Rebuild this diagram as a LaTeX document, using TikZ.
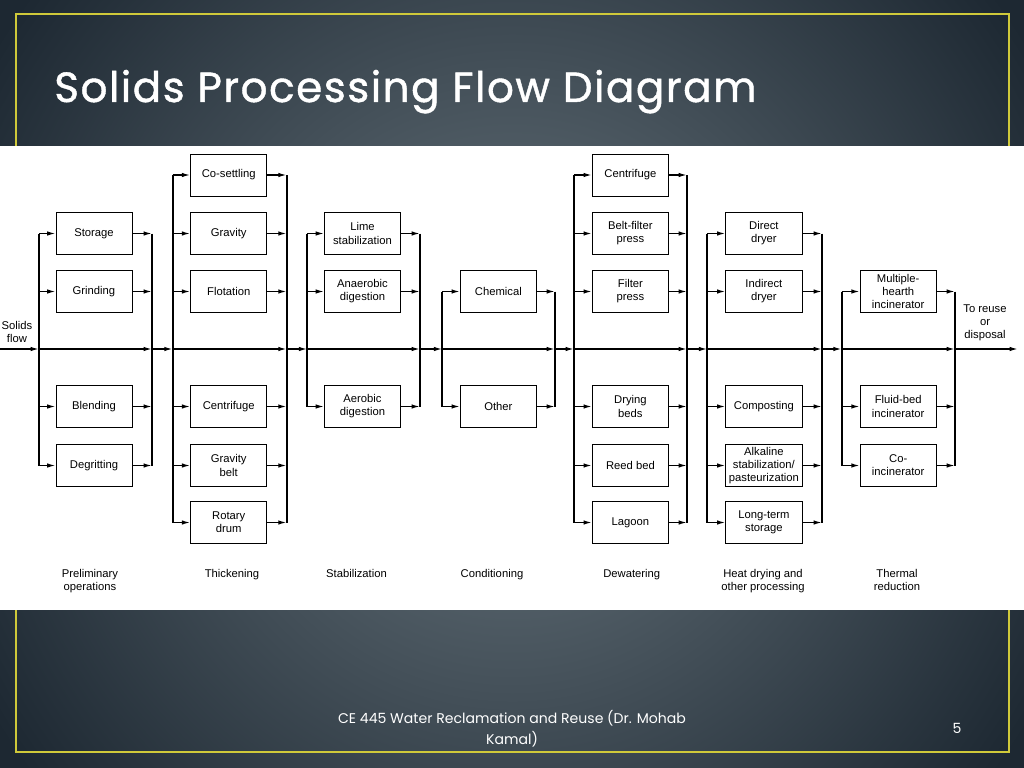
\documentclass[tikz,border=0pt]{standalone}
\usepackage{fontspec}
\setmainfont{Liberation Sans}
\newfontfamily\slidefont{Poppins}
\newfontfamily\titlefont[LetterSpace=3.5,FakeBold=1]{Poppins}
\usetikzlibrary{arrows.meta}
\definecolor{slidedark}{HTML}{1D2832}
\definecolor{slidelight}{HTML}{6A777F}
\definecolor{frameyellow}{HTML}{CFC93A}

\begin{document}
\begin{tikzpicture}[x=0.025cm,y=-0.025cm,>={Latex[length=6pt,width=3.2pt]}]
      \tikzstyle{unit}=[draw,line width=0.6pt,fill=white,minimum width=1.9cm,minimum height=1.05cm,inner sep=1pt,align=center,font=\fontsize{8}{9.3}\selectfont]
      \tikzstyle{flow}=[->,line width=1pt]
      \tikzstyle{bus}=[line width=1.5pt]
      \tikzstyle{stage}=[anchor=north,align=center,font=\fontsize{8}{9.3}\selectfont]

      \useasboundingbox (0,0) rectangle (1024,768);
      \shade[inner color=slidelight,outer color=slidedark] (-100,-250) rectangle (1124,1018);
      \draw[frameyellow,line width=1.8pt] (16,14) rectangle (1009,752);
      \fill[white] (0,146) rectangle (1024,610);

      \node[anchor=base west,inner sep=0pt,text=white,font=\titlefont\fontsize{30}{36}\selectfont] (title) at (54,102) {Solids Processing Flow Diagram};
      \node[text=white,align=center,font=\slidefont\fontsize{10}{15}\selectfont] (foot) at (512,729) {CE 445 Water Reclamation and Reuse (Dr. Mohab\\Kamal)};
      \node[text=white,font=\slidefont\fontsize{10}{12}\selectfont] (pnum) at (957,728) {5};

      \coordinate (src) at (0,349);
      \coordinate (inA) at (39,349);
      \coordinate (outA) at (152,349);
      \coordinate (inB) at (172.7,349);
      \coordinate (outB) at (286.7,349);
      \coordinate (inC) at (307.3,349);
      \coordinate (outC) at (420,349);
      \coordinate (inD) at (442.3,349);
      \coordinate (outD) at (555,349);
      \coordinate (inE) at (574,349);
      \coordinate (outE) at (687,349);
      \coordinate (inF) at (707.3,349);
      \coordinate (outF) at (822,349);
      \coordinate (inG) at (841.7,349);
      \coordinate (outG) at (955,349);
      \coordinate (sink) at (1018,349);

      \node[unit] (storage) at (94,233.5) {Storage};
      \node[unit] (grind) at (94,291.5) {Grinding};
      \node[unit] (blend) at (94,406.5) {Blending};
      \node[unit] (degrit) at (94,465.5) {Degritting};

      \node[unit] (coset) at (228.7,175) {Co-settling};
      \node[unit] (gravity) at (228.7,233.5) {Gravity};
      \node[unit] (flotat) at (228.7,291.5) {Flotation};
      \node[unit] (centA) at (228.7,406.5) {Centrifuge};
      \node[unit] (gbelt) at (228.7,465.5) {Gravity\\belt};
      \node[unit] (rdrum) at (228.7,522.5) {Rotary\\drum};

      \node[unit] (lime) at (362.5,233.5) {Lime\\stabilization};
      \node[unit] (anaer) at (362.5,291.5) {Anaerobic\\digestion};
      \node[unit] (aerob) at (362.5,406.5) {Aerobic\\digestion};

      \node[unit] (chem) at (498.4,291.5) {Chemical};
      \node[unit] (other) at (498.4,406.5) {Other};

      \node[unit] (centB) at (630.4,175) {Centrifuge};
      \node[unit] (bfp) at (630.4,233.5) {Belt-filter\\press};
      \node[unit] (fpress) at (630.4,291.5) {Filter\\press};
      \node[unit] (dbeds) at (630.4,406.5) {Drying\\beds};
      \node[unit] (reed) at (630.4,465.5) {Reed bed};
      \node[unit] (lagoon) at (630.4,522.5) {Lagoon};

      \node[unit] (ddry) at (763.9,233.5) {Direct\\dryer};
      \node[unit] (idry) at (763.9,291.5) {Indirect\\dryer};
      \node[unit] (compost) at (763.9,406.5) {Composting};
      \node[unit] (alkal) at (763.9,465.5) {Alkaline\\stabilization/\\pasteurization};
      \node[unit] (ltstore) at (763.9,522.5) {Long-term\\storage};

      \node[unit] (mhearth) at (898.2,291.5) {Multiple-\\hearth\\incinerator};
      \node[unit] (fbed) at (898.2,406.5) {Fluid-bed\\incinerator};
      \node[unit] (coinc) at (898.2,465.5) {Co-\\incinerator};

      \node[align=center,font=\fontsize{8}{9.3}\selectfont] (solids) at (17,332) {Solids\\flow};
      \node[align=center,font=\fontsize{8}{9.3}\selectfont] (reuse) at (985,323) {To reuse\\or\\disposal};

      \node[stage] (lblA) at (90,564) {Preliminary\\operations};
      \node[stage] (lblB) at (232,564) {Thickening};
      \node[stage] (lblC) at (356.5,564) {Stabilization};
      \node[stage] (lblD) at (492,564) {Conditioning};
      \node[stage] (lblE) at (631.7,564) {Dewatering};
      \node[stage] (lblF) at (763,564) {Heat drying and\\other processing};
      \node[stage] (lblG) at (897,564) {Thermal\\reduction};

      \draw[bus] (storage -| inA) -- (degrit -| inA);
      \draw[bus] (storage -| outA) -- (degrit -| outA);
      \draw[bus] (coset -| inB) -- (rdrum -| inB);
      \draw[bus] (coset -| outB) -- (rdrum -| outB);
      \draw[bus] (lime -| inC) -- (aerob -| inC);
      \draw[bus] (lime -| outC) -- (aerob -| outC);
      \draw[bus] (chem -| inD) -- (other -| inD);
      \draw[bus] (chem -| outD) -- (other -| outD);
      \draw[bus] (centB -| inE) -- (lagoon -| inE);
      \draw[bus] (centB -| outE) -- (lagoon -| outE);
      \draw[bus] (ddry -| inF) -- (ltstore -| inF);
      \draw[bus] (ddry -| outF) -- (ltstore -| outF);
      \draw[bus] (mhearth -| inG) -- (coinc -| inG);
      \draw[bus] (mhearth -| outG) -- (coinc -| outG);

      \draw[flow] (src)  -- (inA);
      \draw[flow] (inA)  -- (outA);
      \draw[flow] (outA) -- (inB);
      \draw[flow] (inB)  -- (outB);
      \draw[flow] (outB) -- (inC);
      \draw[flow] (inC)  -- (outC);
      \draw[flow] (outC) -- (inD);
      \draw[flow] (inD)  -- (outD);
      \draw[flow] (outD) -- (inE);
      \draw[flow] (inE)  -- (outE);
      \draw[flow] (outE) -- (inF);
      \draw[flow] (inF)  -- (outF);
      \draw[flow] (outF) -- (inG);
      \draw[flow] (inG)  -- (outG);
      \draw[flow] (outG) -- (sink);

      \draw[flow] (storage -| inA) -- (storage.west);
      \draw[flow] (storage.east)   -- (storage -| outA);
      \draw[flow] (grind -| inA)   -- (grind.west);
      \draw[flow] (grind.east)     -- (grind -| outA);
      \draw[flow] (blend -| inA)   -- (blend.west);
      \draw[flow] (blend.east)     -- (blend -| outA);
      \draw[flow] (degrit -| inA)  -- (degrit.west);
      \draw[flow] (degrit.east)    -- (degrit -| outA);

      \draw[flow] (coset -| inB)   -- (coset.west);
      \draw[flow] (coset.east)     -- (coset -| outB);
      \draw[flow] (gravity -| inB) -- (gravity.west);
      \draw[flow] (gravity.east)   -- (gravity -| outB);
      \draw[flow] (flotat -| inB)  -- (flotat.west);
      \draw[flow] (flotat.east)    -- (flotat -| outB);
      \draw[flow] (centA -| inB)   -- (centA.west);
      \draw[flow] (centA.east)     -- (centA -| outB);
      \draw[flow] (gbelt -| inB)   -- (gbelt.west);
      \draw[flow] (gbelt.east)     -- (gbelt -| outB);
      \draw[flow] (rdrum -| inB)   -- (rdrum.west);
      \draw[flow] (rdrum.east)     -- (rdrum -| outB);

      \draw[flow] (lime -| inC)    -- (lime.west);
      \draw[flow] (lime.east)      -- (lime -| outC);
      \draw[flow] (anaer -| inC)   -- (anaer.west);
      \draw[flow] (anaer.east)     -- (anaer -| outC);
      \draw[flow] (aerob -| inC)   -- (aerob.west);
      \draw[flow] (aerob.east)     -- (aerob -| outC);

      \draw[flow] (chem -| inD)    -- (chem.west);
      \draw[flow] (chem.east)      -- (chem -| outD);
      \draw[flow] (other -| inD)   -- (other.west);
      \draw[flow] (other.east)     -- (other -| outD);

      \draw[flow] (centB -| inE)   -- (centB.west);
      \draw[flow] (centB.east)     -- (centB -| outE);
      \draw[flow] (bfp -| inE)     -- (bfp.west);
      \draw[flow] (bfp.east)       -- (bfp -| outE);
      \draw[flow] (fpress -| inE)  -- (fpress.west);
      \draw[flow] (fpress.east)    -- (fpress -| outE);
      \draw[flow] (dbeds -| inE)   -- (dbeds.west);
      \draw[flow] (dbeds.east)     -- (dbeds -| outE);
      \draw[flow] (reed -| inE)    -- (reed.west);
      \draw[flow] (reed.east)      -- (reed -| outE);
      \draw[flow] (lagoon -| inE)  -- (lagoon.west);
      \draw[flow] (lagoon.east)    -- (lagoon -| outE);

      \draw[flow] (ddry -| inF)    -- (ddry.west);
      \draw[flow] (ddry.east)      -- (ddry -| outF);
      \draw[flow] (idry -| inF)    -- (idry.west);
      \draw[flow] (idry.east)      -- (idry -| outF);
      \draw[flow] (compost -| inF) -- (compost.west);
      \draw[flow] (compost.east)   -- (compost -| outF);
      \draw[flow] (alkal -| inF)   -- (alkal.west);
      \draw[flow] (alkal.east)     -- (alkal -| outF);
      \draw[flow] (ltstore -| inF) -- (ltstore.west);
      \draw[flow] (ltstore.east)   -- (ltstore -| outF);

      \draw[flow] (mhearth -| inG) -- (mhearth.west);
      \draw[flow] (mhearth.east)   -- (mhearth -| outG);
      \draw[flow] (fbed -| inG)    -- (fbed.west);
      \draw[flow] (fbed.east)      -- (fbed -| outG);
      \draw[flow] (coinc -| inG)   -- (coinc.west);
      \draw[flow] (coinc.east)     -- (coinc -| outG);
    \end{tikzpicture}
\end{document}
